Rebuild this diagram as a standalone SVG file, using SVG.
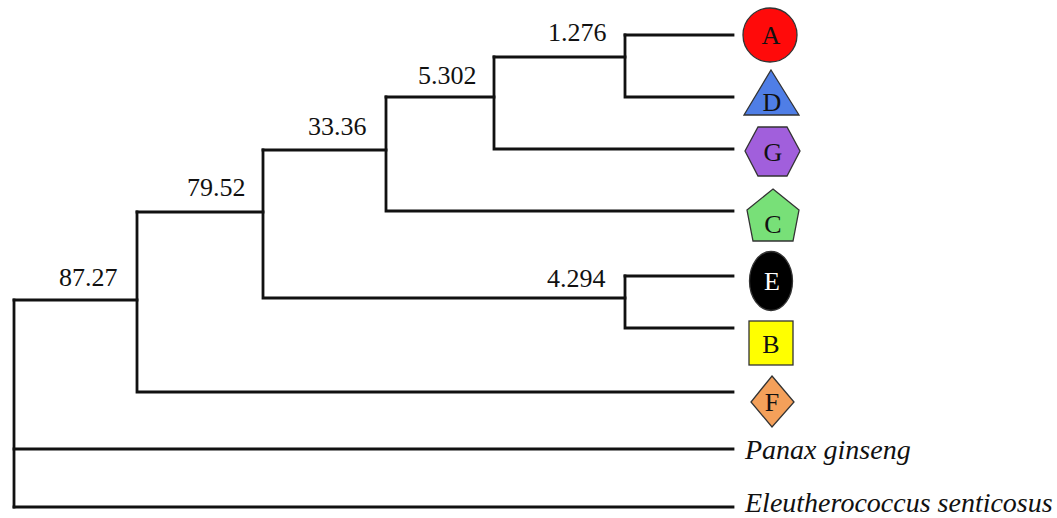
<svg xmlns="http://www.w3.org/2000/svg" width="1057" height="518" viewBox="0 0 1057 518">
  <style>
    .edge { fill: none; stroke: #111; stroke-width: 2.8; stroke-linecap: square; stroke-linejoin: miter; }
    .support { font-family: 'Liberation Serif', 'DejaVu Serif', serif; font-size: 26px; fill: #111; }
    .taxon { font-family: 'Liberation Serif', 'DejaVu Serif', serif; font-size: 28px; font-style: italic; fill: #111; }
    .mark { stroke: #333; stroke-width: 1.3; }
    .tag { font-family: 'Liberation Serif', 'DejaVu Serif', serif; font-size: 26px; fill: #111; text-anchor: middle; }
  </style>
  <rect width="1057" height="518" fill="#ffffff"/>

  <!-- tree branches -->
  <g id="connectors">
    <path class="edge" d="M14,300 V507"/>
    <path class="edge" d="M14,300 H137"/>
    <path class="edge" d="M14,449 H733"/>
    <path class="edge" d="M14,507 H733"/>
    <path class="edge" d="M137,212 V392 H733"/>
    <path class="edge" d="M137,212 H263"/>
    <path class="edge" d="M263,150 V298 H625"/>
    <path class="edge" d="M263,150 H386"/>
    <path class="edge" d="M386,97 V211 H733"/>
    <path class="edge" d="M386,97 H494"/>
    <path class="edge" d="M494,57 V149 H733"/>
    <path class="edge" d="M494,57 H625"/>
    <path class="edge" d="M625,35 V97 H733"/>
    <path class="edge" d="M625,35 H733"/>
    <path class="edge" d="M625,276 V328 H733"/>
    <path class="edge" d="M625,276 H733"/>
  </g>

  <!-- support values -->
  <g id="support-values">
    <text class="support" x="59" y="286">87.27</text>
    <text class="support" x="187" y="196">79.52</text>
    <text class="support" x="308" y="135">33.36</text>
    <text class="support" x="418" y="84">5.302</text>
    <text class="support" x="548" y="41">1.276</text>
    <text class="support" x="547" y="287">4.294</text>
  </g>

  <!-- leaf markers -->
  <g id="node-A">
    <circle class="mark" cx="770" cy="35" r="27" fill="#ff0a0a"/>
    <text class="tag" x="771" y="44">A</text>
  </g>
  <g id="node-D">
    <polygon class="mark" points="771,70 799,115 744,115" fill="#4f7ee6"/>
    <text class="tag" x="772" y="111">D</text>
  </g>
  <g id="node-G">
    <polygon class="mark" points="745,151 758,127 787,127 800,151 787,176 758,176" fill="#a15fdc"/>
    <text class="tag" x="773" y="161">G</text>
  </g>
  <g id="node-C">
    <polygon class="mark" points="773,189 799,210 793,241 753,241 747,210" fill="#78e078"/>
    <text class="tag" x="773" y="233">C</text>
  </g>
  <g id="node-E">
    <ellipse class="mark" cx="771" cy="281" rx="21.5" ry="29.5" fill="#000000"/>
    <text class="tag" x="772" y="290" style="fill:#ffffff">E</text>
  </g>
  <g id="node-B">
    <rect class="mark" x="749" y="321" width="44" height="44" fill="#ffff00"/>
    <text class="tag" x="771" y="353">B</text>
  </g>
  <g id="node-F">
    <polygon class="mark" points="772,376 794,402 772,427 751,402" fill="#f4a05a"/>
    <text class="tag" x="772" y="411">F</text>
  </g>

  <!-- outgroup taxa -->
  <g id="node-panax">
    <text class="taxon" x="745" y="459">Panax ginseng</text>
  </g>
  <g id="node-eleutherococcus">
    <text class="taxon" x="745" y="512">Eleutherococcus senticosus</text>
  </g>
</svg>
